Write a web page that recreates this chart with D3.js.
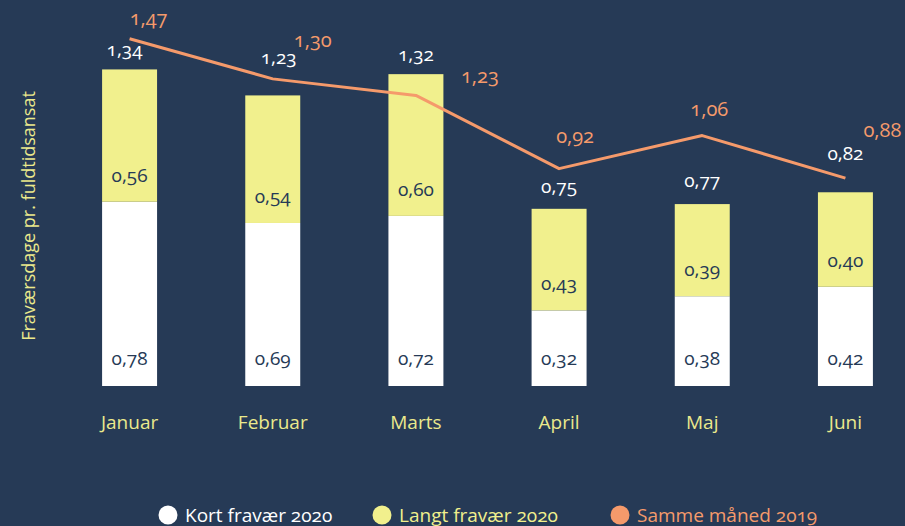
<!DOCTYPE html>
<html>
<head>
<meta charset="utf-8">
<script src="https://cdn.jsdelivr.net/npm/d3@7"></script>
<style>
  html, body { margin: 0; padding: 0; background: #263a56; }
  svg { display: block; }
  text { font-family: "Open Sans", sans-serif; font-variant-numeric: oldstyle-nums; font-feature-settings: "onum" 1; }
</style>
</head>
<body>
<svg id="chart" width="905" height="526"></svg>
<script>
var width = 905,
    height = 526;

// data
var months = ["Januar", "Februar", "Marts", "April", "Maj", "Juni"];
var kort2020 = [0.78, 0.69, 0.72, 0.32, 0.38, 0.42];
var langt2020 = [0.56, 0.54, 0.60, 0.43, 0.39, 0.40];
var total2020 = [1.34, 1.23, 1.32, 0.75, 0.77, 0.82];
var samme2019 = [1.47, 1.30, 1.23, 0.92, 1.06, 0.88];
var legendLabels = ["Kort fravær 2020", "Langt fravær 2020", "Samme måned 2019"];

// hand placed labels in the original, offsets in px
var totalDx = [-5, 6, 0, 0, 0, 0],
    totalDy = [-13, -31, -13, -16, -17, -32];
var lineDx = [19, 40, 64, 16, 7, 37],
    lineDy = [-14, -32, -12, -26, -20, -41];

var bg = "#263a56",
    white = "#ffffff",
    yellow = "#f1f08d",
    orange = "#f59a6b",
    monthColor = "#ebe98c";

var fmt = function (v) {
    return d3.format(".2f")(v).replace(".", ",");
};

var svg = d3.select("#chart");

var x = d3.scaleBand()
    .domain(months)
    .range([58, 917])
    .paddingInner(0.616)
    .paddingOuter(0.308);

var y = d3.scaleLinear()
    .domain([0, 1.6])
    .range([386, 8]);

var cx = function (i) {
    return x(months[i]) + x.bandwidth() / 2;
};

// y axis title
svg.append("text")
    .attr("transform", "translate(35,216) rotate(-90)")
    .attr("text-anchor", "middle")
    .attr("fill", monthColor)
    .style("font-size", "18px")
    .text("Fraværsdage pr. fuldtidsansat");

// bars
var bars = svg.append("g").attr("class", "bars");

bars.selectAll("rect.kort")
    .data(kort2020)
    .join("rect")
    .attr("class", "kort")
    .attr("x", function (d, i) { return x(months[i]); })
    .attr("width", x.bandwidth())
    .attr("y", function (d) { return y(d); })
    .attr("height", function (d) { return y(0) - y(d); })
    .attr("fill", white);

bars.selectAll("rect.langt")
    .data(langt2020)
    .join("rect")
    .attr("class", "langt")
    .attr("x", function (d, i) { return x(months[i]); })
    .attr("width", x.bandwidth())
    .attr("y", function (d, i) { return y(kort2020[i] + d); })
    .attr("height", function (d, i) { return y(kort2020[i]) - y(kort2020[i] + d); })
    .attr("fill", yellow);

// line for 2019
var line = d3.line()
    .x(function (d, i) { return cx(i); })
    .y(function (d) { return y(d); });

svg.append("path")
    .datum(samme2019)
    .attr("d", line)
    .attr("fill", "none")
    .attr("stroke", orange)
    .attr("stroke-width", 3)
    .attr("stroke-linejoin", "round");

// labels
var labels = svg.append("g").style("font-size", "19px").attr("text-anchor", "middle");

labels.selectAll("text.kort")
    .data(kort2020)
    .join("text")
    .attr("class", "kort")
    .attr("x", function (d, i) { return cx(i); })
    .attr("y", y(0) - 21)
    .attr("fill", bg)
    .text(fmt);

labels.selectAll("text.langt")
    .data(langt2020)
    .join("text")
    .attr("class", "langt")
    .attr("x", function (d, i) { return cx(i); })
    .attr("y", function (d, i) { return y(kort2020[i]) - 20; })
    .attr("fill", bg)
    .text(fmt);

labels.selectAll("text.total")
    .data(total2020)
    .join("text")
    .attr("class", "total")
    .attr("x", function (d, i) { return cx(i) + totalDx[i]; })
    .attr("y", function (d, i) { return y(kort2020[i] + langt2020[i]) + totalDy[i]; })
    .attr("fill", white)
    .text(fmt);

labels.selectAll("text.prev")
    .data(samme2019)
    .join("text")
    .attr("class", "prev")
    .attr("x", function (d, i) { return cx(i) + lineDx[i]; })
    .attr("y", function (d, i) { return y(d) + lineDy[i]; })
    .attr("fill", orange)
    .style("font-size", "20px")
    .text(fmt);

// month labels
svg.append("g")
    .selectAll("text")
    .data(months)
    .join("text")
    .attr("x", function (d) { return x(d) + x.bandwidth() / 2; })
    .attr("y", 429)
    .attr("text-anchor", "middle")
    .attr("fill", monthColor)
    .style("font-size", "19px")
    .text(function (d) { return d; });

// legend
var legendX = [168, 382, 620];
var legendColors = [white, yellow, orange];

var legend = svg.append("g")
    .selectAll("g")
    .data(legendLabels)
    .join("g")
    .attr("transform", function (d, i) { return "translate(" + legendX[i] + ",515)"; });

legend.append("circle")
    .attr("r", 9.5)
    .attr("fill", function (d, i) { return legendColors[i]; });

legend.append("text")
    .attr("x", 17)
    .attr("y", 6.5)
    .attr("fill", function (d, i) { return legendColors[i]; })
    .style("font-size", "19px")
    .text(function (d) { return d; });
</script>
</body>
</html>
